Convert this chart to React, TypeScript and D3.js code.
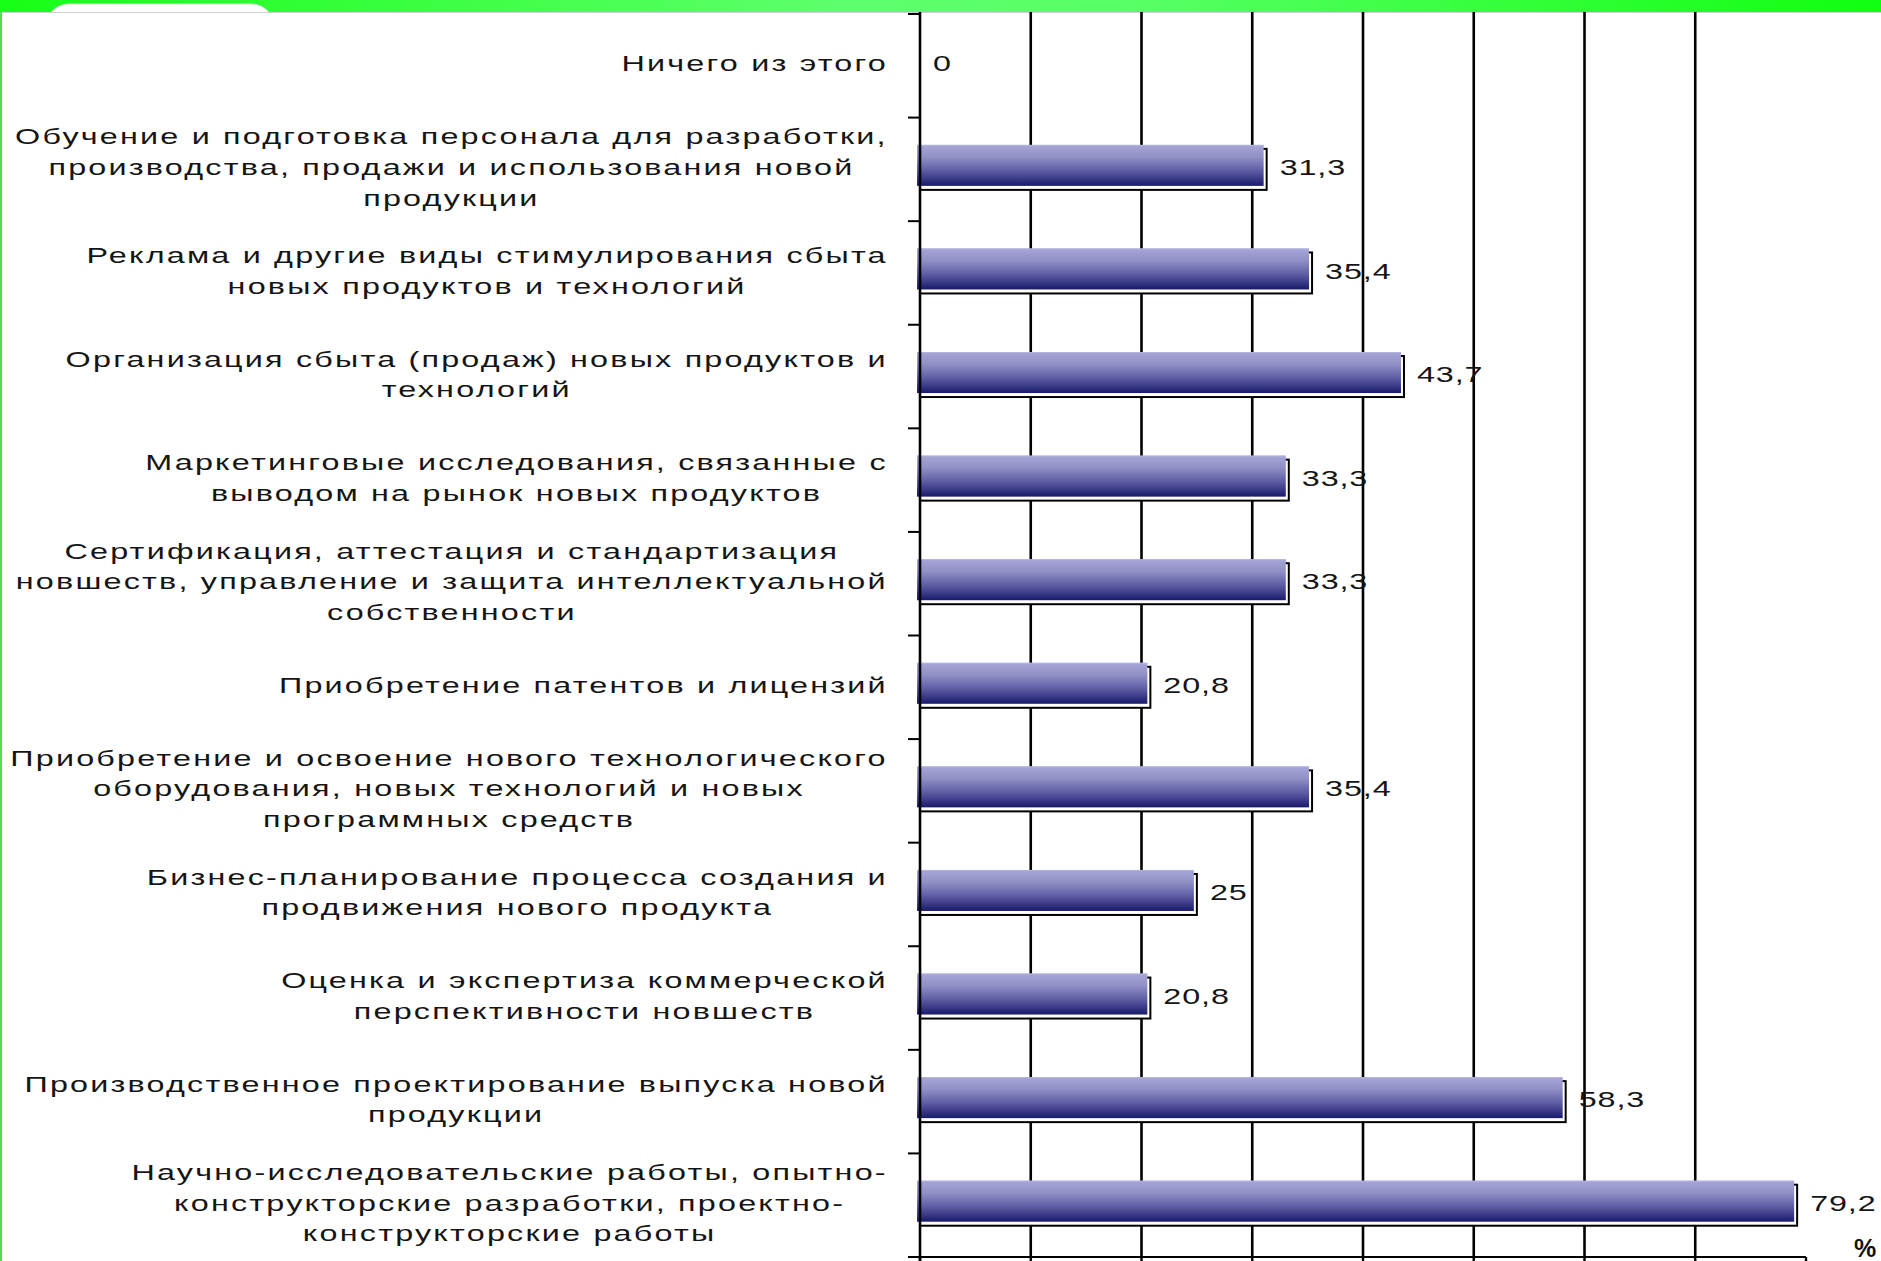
import React, { useEffect, useRef } from "react";
import * as d3 from "d3";

const W = 1881;
const H = 1261;

const categoryLines: string[][] = [
  ["Ничего из этого"],
  ["Обучение и подготовка персонала для разработки,", "производства, продажи и использования новой", "продукции"],
  ["Реклама и другие виды стимулирования сбыта", "новых продуктов и технологий"],
  ["Организация сбыта (продаж) новых продуктов и", "технологий"],
  ["Маркетинговые исследования, связанные с", "выводом на рынок новых продуктов"],
  ["Сертификация, аттестация и стандартизация", "новшеств, управление и защита интеллектуальной", "собственности"],
  ["Приобретение патентов и лицензий"],
  ["Приобретение и освоение нового технологического", "оборудования, новых технологий и новых", "программных средств"],
  ["Бизнес-планирование процесса создания и", "продвижения нового продукта"],
  ["Оценка и экспертиза коммерческой", "перспективности новшеств"],
  ["Производственное проектирование выпуска новой", "продукции"],
  ["Научно-исследовательские работы, опытно-", "конструкторские разработки, проектно-", "конструкторские работы"],
];

const values: number[] = [0, 31.3, 35.4, 43.7, 33.3, 33.3, 20.8, 35.4, 25, 20.8, 58.3, 79.2];

const xTicks: number[] = [0, 10, 20, 30, 40, 50, 60, 70, 80];
const gridValues: number[] = [10, 20, 30, 40, 50, 60, 70];
const unitLabel = "%";

const FONT = "'Liberation Sans', Arial, sans-serif";
const FS = 22;
const LS = 1.5;
const SX = 1.47;

export default function App() {
  const ref = useRef<SVGSVGElement>(null);

  useEffect(() => {
    document.body.style.margin = "0";
    const svg = d3.select(ref.current as SVGSVGElement);
    svg.selectAll("*").remove();

    const defs = svg.append("defs");
    const gg = defs
      .append("linearGradient")
      .attr("id", "gband")
      .attr("x1", "0").attr("x2", "1").attr("y1", "0").attr("y2", "0");
    [["0%", "#16ff16"], ["45%", "#5eff6c"], ["60%", "#58ff66"], ["100%", "#10ff10"]].forEach(([o, c]) =>
      gg.append("stop").attr("offset", o).attr("stop-color", c)
    );
    const bg = defs
      .append("linearGradient")
      .attr("id", "barGrad")
      .attr("x1", "0").attr("x2", "0").attr("y1", "0").attr("y2", "1");
    [["0%", "#a6a6d8"], ["30%", "#9090c6"], ["65%", "#5a5aa2"], ["100%", "#1a1a6c"]].forEach(([o, c]) =>
      bg.append("stop").attr("offset", o).attr("stop-color", c)
    );

    // background
    svg.append("rect").attr("x", 0).attr("y", 0).attr("width", W).attr("height", H).attr("fill", "#ffffff");

    // top green band
    svg.append("rect").attr("x", 0).attr("y", 0).attr("width", W).attr("height", 12).attr("fill", "url(#gband)");
    // white tab
    svg.append("rect")
      .attr("x", 47).attr("y", 4).attr("width", 226).attr("height", 40).attr("rx", 22)
      .attr("fill", "#ffffff").attr("stroke", "#d8d8d8").attr("stroke-width", 1);
    svg.append("rect").attr("x", 40).attr("y", 13).attr("width", 250).attr("height", 40).attr("fill", "#ffffff");
    svg.append("line").attr("x1", 0).attr("x2", W).attr("y1", 12.5).attr("y2", 12.5)
      .attr("stroke", "#cfcfcf").attr("stroke-width", 1);
    // left green edge
    svg.append("rect").attr("x", 0).attr("y", 12).attr("width", 2).attr("height", H - 12).attr("fill", "#4fe04f");

    const x = d3.scaleLinear().domain([0, 80]).range([920, 1806]);
    const y = d3
      .scaleBand<string>()
      .domain(values.map((_, i) => String(i)))
      .range([14, 1257])
      .padding(0);
    const yTop = 12;
    const yBottom = 1257;
    const step = y.step();

    // gridlines
    svg.append("g")
      .selectAll("line")
      .data(gridValues)
      .join("line")
      .attr("x1", (d) => x(d)).attr("x2", (d) => x(d))
      .attr("y1", yTop).attr("y2", yBottom)
      .attr("stroke", "#000").attr("stroke-width", 2.6);

    // bars
    const barH = 41;
    const bars = svg.append("g");
    values.forEach((v, i) => {
      if (v <= 0) return;
      const c = (y(String(i)) as number) + step / 2;
      bars.append("rect")
        .attr("x", x(0)).attr("y", c - barH / 2)
        .attr("width", x(v) - x(0)).attr("height", barH)
        .attr("fill", "#ffffff").attr("stroke", "#000").attr("stroke-width", 2);
      bars.append("rect")
        .attr("x", x(0) - 3).attr("y", c - barH / 2 - 4)
        .attr("width", x(v) - x(0)).attr("height", barH)
        .attr("fill", "url(#barGrad)");
      bars.append("line")
        .attr("x1", x(0) - 3).attr("x2", x(v) - 3)
        .attr("y1", c - barH / 2 - 3.5).attr("y2", c - barH / 2 - 3.5)
        .attr("stroke", "#b4b4e0").attr("stroke-width", 1);
    });

    // left axis
    svg.append("line").attr("x1", x(0)).attr("x2", x(0)).attr("y1", yTop).attr("y2", yBottom + 8)
      .attr("stroke", "#000").attr("stroke-width", 2.6);
    const yTicks = values.map((_, i) => y(String(i)) as number).concat([yBottom]);
    svg.append("g")
      .selectAll("line")
      .data(yTicks)
      .join("line")
      .attr("x1", x(0) - 12).attr("x2", x(0))
      .attr("y1", (d) => d).attr("y2", (d) => d)
      .attr("stroke", "#000").attr("stroke-width", 2);

    // bottom axis
    svg.append("line").attr("x1", x(0) - 12).attr("x2", x(80)).attr("y1", yBottom).attr("y2", yBottom)
      .attr("stroke", "#000").attr("stroke-width", 2);
    svg.append("g")
      .selectAll("line")
      .data(xTicks)
      .join("line")
      .attr("x1", (d) => x(d)).attr("x2", (d) => x(d))
      .attr("y1", yBottom).attr("y2", yBottom + 10)
      .attr("stroke", "#000").attr("stroke-width", 2.4);

    // category labels
    const labelRight = 888;
    const lineH = 30.6;
    const labels = svg.append("g");
    categoryLines.forEach((lines, i) => {
      const c = (y(String(i)) as number) + step / 2 - 2;
      const g = labels.append("g");
      const nodes: { t: d3.Selection<SVGTextElement, unknown, null, undefined>; w: number }[] = [];
      lines.forEach((ln) => {
        const t = g.append("text")
          .attr("font-family", FONT).attr("font-size", FS).attr("letter-spacing", LS)
          .attr("fill", "#151515").attr("text-anchor", "middle").attr("dominant-baseline", "central")
          .text(ln);
        const w = (t.node() as SVGTextElement).getComputedTextLength();
        nodes.push({ t, w });
      });
      const blockW = d3.max(nodes, (n) => n.w)! * SX;
      const cx = labelRight - blockW / 2;
      nodes.forEach((n, k) => {
        const ly = c + (k - (lines.length - 1) / 2) * lineH;
        n.t.attr("transform", `translate(${cx},${ly}) scale(${SX},1)`);
      });
    });

    // value labels
    svg.append("g")
      .selectAll("text")
      .data(values)
      .join("text")
      .attr("font-family", FONT).attr("font-size", FS).attr("letter-spacing", 0.6)
      .attr("fill", "#151515").attr("dominant-baseline", "central")
      .attr("transform", (d, i) => {
        const c = (y(String(i)) as number) + step / 2 - 2;
        return `translate(${x(d) + 13},${c}) scale(${SX},1)`;
      })
      .text((d) => String(d).replace(".", ","));

    // unit label
    svg.append("text")
      .attr("x", 1865).attr("y", 1257)
      .attr("font-family", FONT).attr("font-size", 25).attr("font-weight", "bold")
      .attr("text-anchor", "middle").attr("fill", "#111")
      .text(unitLabel);
  }, []);

  return (
    <svg
      ref={ref}
      width={W}
      height={H}
      style={{ position: "absolute", left: 0, top: 0, display: "block" }}
    />
  );
}
